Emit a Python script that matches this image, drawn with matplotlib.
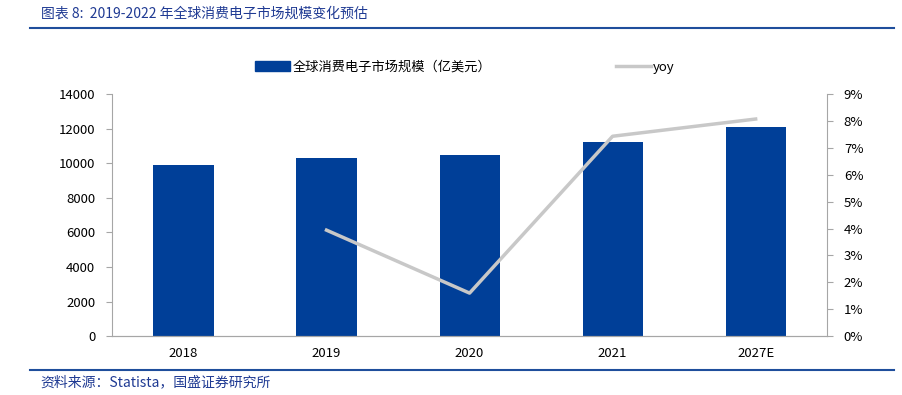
import matplotlib
matplotlib.use("Agg")
import matplotlib.pyplot as plt
from matplotlib.lines import Line2D
from matplotlib.patches import Patch
from matplotlib.ticker import FuncFormatter

plt.rcParams['font.family'] = ['Noto Sans CJK SC', 'DejaVu Sans']

years = ["2018", "2019", "2020", "2021", "2027E"]
market_size = [9890, 10300, 10470, 11220, 12090]
yoy = [None, 3.94, 1.60, 7.43, 8.07]

BLUE = "#003f98"
GREY = "#c8c8c8"
AXIS = "#a6a6a6"

fig = plt.figure(figsize=(9.03, 3.95), dpi=100)
ax = fig.add_axes([0.124, 0.149, 0.792, 0.613])
x = list(range(len(years)))
ax.bar(x, market_size, width=0.42, color=BLUE, zorder=2)
ax.set_xlim(-0.5, len(years) - 0.5)
ax.set_ylim(0, 14000)
ax.set_yticks(range(0, 14001, 2000))
ax.set_xticks(x)
ax.set_xticklabels(years)

ax2 = ax.twinx()
xs = [i for i, v in zip(x, yoy) if v is not None]
ys = [v for v in yoy if v is not None]
ax2.plot(xs, ys, color=GREY, lw=2.5, zorder=3)
ax2.set_ylim(0, 9)
ax2.set_yticks(range(0, 10))
ax2.yaxis.set_major_formatter(FuncFormatter(lambda v, p: f"{int(v)}%"))

for a in (ax, ax2):
    a.spines["top"].set_visible(False)
    for s in ("left", "right", "bottom"):
        a.spines[s].set_color(AXIS)
    a.tick_params(colors="black", labelsize=9.5, length=4, color=AXIS)
ax.spines["right"].set_visible(False)
ax2.spines["left"].set_visible(False)
ax.tick_params(axis="x", length=0, pad=8)
ax.tick_params(axis="y", pad=8)
ax2.tick_params(axis="y", pad=8)

handles = [Patch(facecolor=BLUE, edgecolor=BLUE),
           Line2D([0], [0], color=GREY, lw=2.5)]
labels = ["全球消费电子市场规模（亿美元）", "yoy"]
fig.legend(handles, labels, loc="center", bbox_to_anchor=(0.515, 0.83), ncol=2,
           frameon=False, fontsize=9.5, columnspacing=9.5, handlelength=2.6,
           handletextpad=0.2)

# header and footer rules
fig.add_artist(Line2D([0.033, 0.99], [0.93, 0.93], color="#1f4e9c", lw=1.5))
fig.add_artist(Line2D([0.033, 0.99], [0.063, 0.063], color="#1f4e9c", lw=1.5))
fig.text(0.045, 0.965, "图表 8:  2019-2022 年全球消费电子市场规模变化预估", color="#1f3a93",
         fontsize=10, style="italic", va="center")
fig.text(0.045, 0.033, "资料来源：Statista，国盛证券研究所", color="#1f3a93",
         fontsize=10, style="italic", va="center")

fig.savefig("out.png", dpi=100)
